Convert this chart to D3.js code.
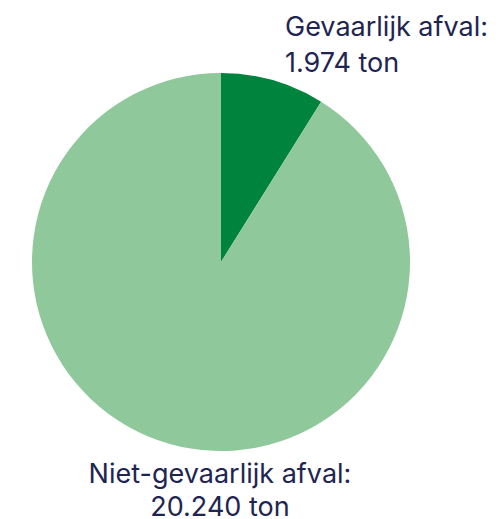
<!DOCTYPE html>
<meta charset="utf-8">
<style>
  body { margin: 0; background: #fff; }
  svg text { font-family: Inter, "Noto Sans", sans-serif; fill: #1f2552; font-size: 27px; }
</style>
<svg width="499" height="519"></svg>
<script src="https://d3js.org/d3.v7.min.js"></script>
<script>

var labels = ["Gevaarlijk afval:", "Niet-gevaarlijk afval:"];
var valueLabels = ["1.974 ton", "20.240 ton"];
var values = [1974, 20240];
var colors = ["#00843d", "#8fc89b"];

var svg = d3.select("svg"),
    cx = 221, cy = 262, r = 189;

var pie = d3.pie().sort(null).value(function(d) { return d; });
var arc = d3.arc().innerRadius(0).outerRadius(r);

var g = svg.append("g").attr("transform", "translate(" + cx + "," + cy + ")");

g.selectAll("path")
  .data(pie(values))
  .enter()
  .append("path")
  .attr("d", arc)
  .attr("fill", function(d, i) { return colors[i]; });

// label for the small slice, top right
var t1 = svg.append("text").attr("x", 285).attr("y", 36);
t1.append("tspan").attr("x", 285).text(labels[0]);
t1.append("tspan").attr("x", 285).attr("dy", 36).text(valueLabels[0]);

// label for the big slice, under the pie
var t2 = svg.append("text").attr("x", 220).attr("y", 483).attr("text-anchor", "middle");
t2.append("tspan").attr("x", 220).text(labels[1]);
t2.append("tspan").attr("x", 220).attr("dy", 33).text(valueLabels[1]);

</script>
